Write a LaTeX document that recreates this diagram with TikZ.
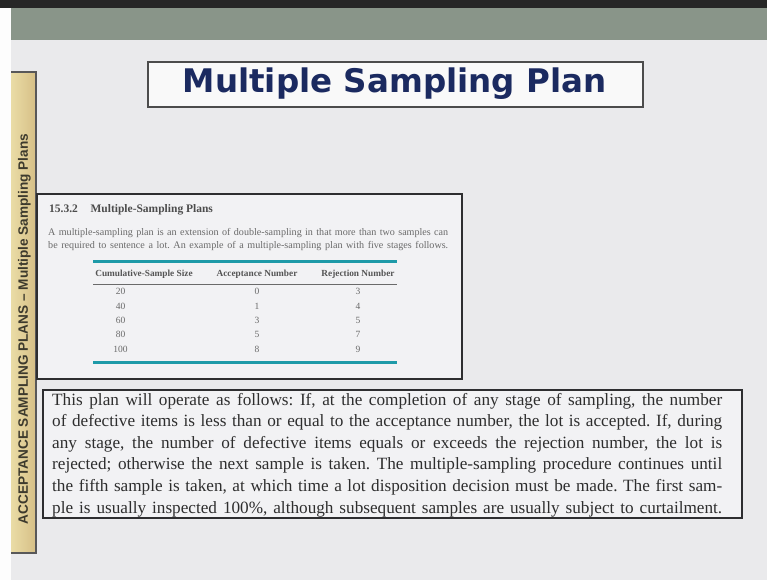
\documentclass[tikz,border=0pt]{standalone}
\usepackage{fontspec}
\setmainfont{Liberation Serif}
\newfontfamily\titlefont{DejaVu Sans}
\newfontfamily\sidefont{Liberation Sans}
\definecolor{bgcol}{HTML}{EAEAEC}
\definecolor{bandcol}{HTML}{899589}
\definecolor{tanL}{HTML}{EADCA6}
\definecolor{tanR}{HTML}{D6BF86}
\definecolor{navy}{HTML}{1B2A60}
\definecolor{teal}{HTML}{1E9AA8}
\definecolor{boxline}{HTML}{2E2E30}
\definecolor{bodytext}{HTML}{2E2E2E}
\definecolor{fadetext}{HTML}{6A6A6A}
\newcommand{\lastfull}{\unskip\parfillskip=0pt\relax\par}
\tikzset{
  panel/.style={draw=boxline, line width=1.8pt, inner sep=0pt},
  numcell/.style={anchor=base, inner sep=0pt, font=\fontsize{9.5}{9.5}\selectfont, text=fadetext},
  headcell/.style={anchor=base, inner sep=0pt, font=\bfseries\fontsize{9.3}{9.3}\selectfont, text=fadetext!80!black},
  tealrule/.style={draw=teal, line width=3pt},
}
\begin{document}
\frenchspacing
\begin{tikzpicture}[x=1pt,y=-1pt]
\useasboundingbox (0,0) rectangle (767,580);
\fill[bgcol] (0,0) rectangle (767,580);
\fill[black!85] (0,0) rectangle (767,8);
\fill[bandcol] (11,8) rectangle (767,40);
\fill[white!92!bgcol] (0,8) rectangle (11,580);

% side bar
\shade[left color=tanL, right color=tanR] (11,72) rectangle (36,553);
\draw[draw=boxline!80, line width=1.5pt] (11,72) -- (36,72) -- (36,553) -- (11,553);
\node[rotate=90, inner sep=0pt, text=black!75!olive, font=\sidefont\bfseries\fontsize{13.6}{13.6}\selectfont] (side) at (24.5,329)
  {ACCEPTANCE SAMPLING PLANS \textendash\ Multiple Sampling Plans};

% title
\node[panel, draw=black!70, line width=1.5pt, fill=white!70!bgcol, minimum width=495pt, minimum height=45pt] (titlebox) at (395.5,84.5) {};
\node[anchor=base, inner sep=0pt, text=navy, font=\titlefont\bfseries\fontsize{32.5}{32.5}\selectfont] (titletext) at (394.5,92.5) {Multiple Sampling Plan};

% table panel
\node[panel, fill=white!40!bgcol, minimum width=425pt, minimum height=185pt] (tablebox) at (249.5,286.5) {};
\node[anchor=base west, inner sep=0pt, text=black!70, font=\bfseries\fontsize{11.5}{11.5}\selectfont] (heading) at (49,212.5)
  {15.3.2\hspace{1.1em}Multiple-Sampling Plans};
\node[anchor=base west, inner sep=0pt, text width=400pt, align=justify, text=fadetext, font=\fontsize{10.1}{13}\selectfont] (intro) at (48,235)
  {A multiple-sampling plan is an extension of double-sampling in that more than two samples can\linebreak
   be required to sentence a lot. An example of a multiple-sampling plan with five stages follows.\lastfull};
\coordinate (r1a) at (93,261.5);
\coordinate (r1b) at (397,261.5);
\coordinate (r2a) at (93,284);
\coordinate (r2b) at (397,284);
\coordinate (r3a) at (93,362.5);
\coordinate (r3b) at (397,362.5);
\draw[tealrule] (r1a) -- (r1b);
\draw[draw=fadetext, line width=0.7pt] (r2a) -- (r2b);
\draw[tealrule] (r3a) -- (r3b);
\node[headcell] (h1) at (144,276) {Cumulative-Sample Size};
\node[headcell] (h2) at (257,276) {Acceptance Number};
\node[headcell] (h3) at (358,276) {Rejection Number};
\foreach \y/\a/\b/\c [count=\i] in {294.5/20/0/3, 309/40/1/4, 323/60/3/5, 337.5/80/5/7, 352/100/8/9} {
  \node[numcell] (n\i a) at (120.5,\y) {\a};
  \node[numcell] (n\i b) at (257,\y) {\b};
  \node[numcell] (n\i c) at (358,\y) {\c};
}

% paragraph panel
\node[panel, fill=white!40!bgcol, minimum width=699pt, minimum height=128pt] (parabox) at (392.5,454) {};
\node[anchor=base west, inner sep=0pt, text width=670pt, align=justify, text=bodytext, font=\fontsize{17.2}{21.6}\selectfont] (para) at (52,405)
  {This plan will operate as follows: If, at the completion of any stage of sampling, the number\linebreak
  of defective items is less than or equal to the acceptance number, the lot is accepted. If, during\linebreak
  any stage, the number of defective items equals or exceeds the rejection number, the lot is\linebreak
  rejected; otherwise the next sample is taken. The multiple-sampling procedure continues until\linebreak
  the fifth sample is taken, at which time a lot disposition decision must be made. The first sam-\linebreak
  ple is usually inspected 100\%, although subsequent samples are usually subject to curtailment.\lastfull};
\end{tikzpicture}
\end{document}
